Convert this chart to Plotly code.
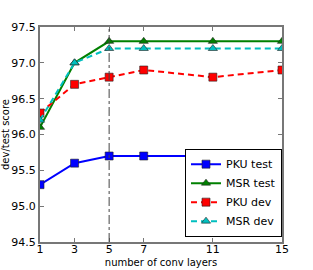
import plotly.graph_objects as go

layers = [1, 3, 5, 7, 11, 15]
pku_test = [95.3, 95.6, 95.7, 95.7, 95.7, 95.7]
msr_test = [96.1, 97.0, 97.3, 97.3, 97.3, 97.3]
pku_dev = [96.3, 96.7, 96.8, 96.9, 96.8, 96.9]
msr_dev = [96.2, 97.0, 97.2, 97.2, 97.2, 97.2]
x_ticks = [1, 3, 5, 7, 11, 15]
y_ticks = [94.5, 95.0, 95.5, 96.0, 96.5, 97.0, 97.5]

fig = go.Figure()
series = [
    ("PKU test", pku_test, "#0000ff", "solid", "square"),
    ("MSR test", msr_test, "#008000", "solid", "triangle-up"),
    ("PKU dev", pku_dev, "#ff0000", "6px,4px", "square"),
    ("MSR dev", msr_dev, "#00bfbf", "6px,4px", "triangle-up"),
]
for name, ys, col, dash, sym in series:
    fig.add_trace(go.Scatter(
        x=layers, y=ys, name=name, mode="lines+markers",
        line=dict(color=col, width=2, dash=dash),
        marker=dict(symbol=sym, size=8, color=col, line=dict(color="#222", width=0.6)),
    ))

fig.add_shape(type="line", x0=5, x1=5, xref="x", y0=0, y1=1, yref="paper",
              line=dict(color="#444", width=1, dash="dashdot"))

axis_common = dict(showgrid=False, zeroline=False, showline=True, linecolor="#777",
                   linewidth=2, mirror="ticks", ticks="inside", ticklen=4,
                   tickcolor="#777", automargin=False,
                   tickfont=dict(family="DejaVu Sans", size=11, color="black"))
fig.update_xaxes(range=[1, 15], tickvals=x_ticks, ticklabelstandoff=-4,
                 title=dict(text="number of conv layers",
                 font=dict(family="DejaVu Sans", size=10, color="black"), standoff=4), **axis_common)
fig.update_yaxes(range=[94.5, 97.5], tickvals=y_ticks, tickformat=".1f",
                 title=dict(text="dev/test score", font=dict(family="DejaVu Sans", size=10, color="black"), standoff=2),
                 **axis_common)

fig.update_layout(
    width=313, height=270,
    margin=dict(l=40, r=31, t=27, b=28),
    plot_bgcolor="white", paper_bgcolor="white",
    legend=dict(x=1, xanchor="right", y=0.025, yanchor="bottom",
                bordercolor="black", borderwidth=1, bgcolor="white",
                font=dict(family="DejaVu Sans", size=11, color="black"),
                tracegroupgap=0, itemwidth=30),
)

fig.write_html("out.html", post_script="document.body.style.margin='0';",
               config={"displayModeBar": False})
